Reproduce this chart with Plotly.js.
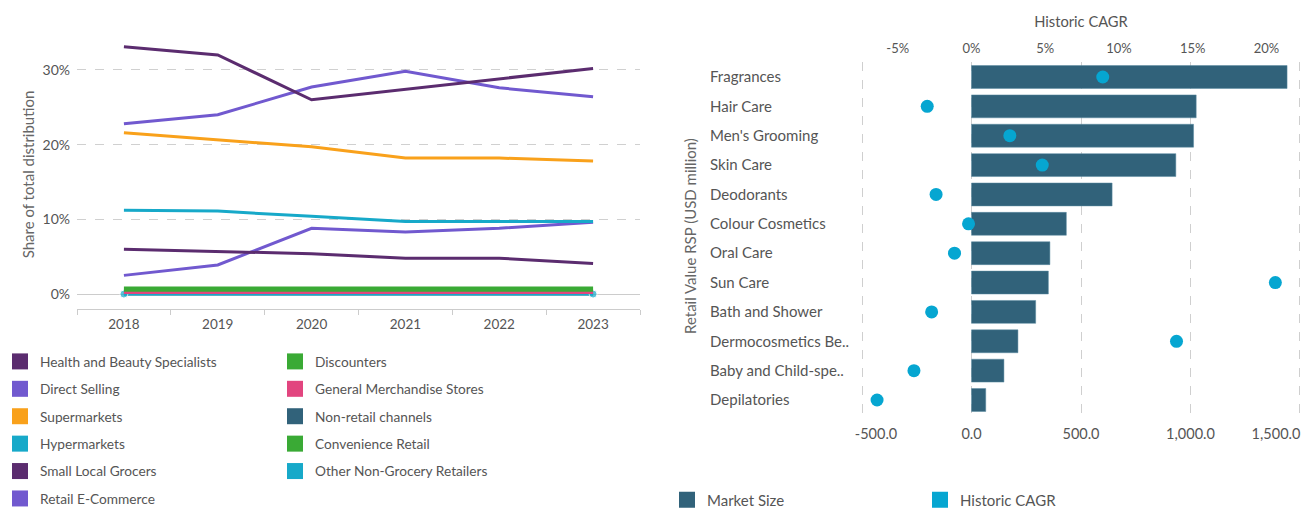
<!DOCTYPE html>
<html>
<head>
<meta charset="utf-8">
<script src="https://cdn.plot.ly/plotly-3.0.1.min.js"></script>
<style>html,body{margin:0;padding:0;background:#fff;}#chart{width:1302px;height:510px;}</style>
</head>
<body>
<div id="chart"></div>
<script>
// ---------- Left chart: share of total distribution (%) ----------
const years = ['2018', '2019', '2020', '2021', '2022', '2023'];
const channelNames = [
  'Health and Beauty Specialists', 'Direct Selling', 'Supermarkets', 'Hypermarkets',
  'Small Local Grocers', 'Retail E-Commerce', 'Discounters', 'General Merchandise Stores',
  'Non-retail channels', 'Convenience Retail', 'Other Non-Grocery Retailers'
];
const healthBeauty   = [33.1, 32.0, 26.0, 27.4, 28.8, 30.2];
const directSelling  = [22.8, 24.0, 27.7, 29.8, 27.6, 26.4];
const supermarkets   = [21.6, 20.7, 19.7, 18.2, 18.2, 17.8];
const hypermarkets   = [11.2, 11.1, 10.4, 9.7, 9.7, 9.7];
const smallGrocers   = [6.0, 5.7, 5.4, 4.8, 4.8, 4.1];
const eCommerce      = [2.5, 3.9, 8.8, 8.3, 8.8, 9.6];
const discounters    = [0.8, 0.8, 0.8, 0.8, 0.8, 0.8];
const generalMerch   = [0.2, 0.2, 0.1, 0.2, 0.2, 0.2];
const nonRetail      = [0.0, 0.0, 0.0, 0.0, 0.0, 0.0];
const convenience    = [0.5, 0.5, 0.5, 0.5, 0.5, 0.5];
const otherNonGrocery= [0.0, 0.0, 0.0, 0.0, 0.0, 0.0];
const shareTicks = [0, 10, 20, 30];
const shareTickText = ['0%', '10%', '20%', '30%'];

// ---------- Right chart: market size & historic CAGR ----------
const categories = [
  'Fragrances', 'Hair Care', "Men's Grooming", 'Skin Care', 'Deodorants', 'Colour Cosmetics',
  'Oral Care', 'Sun Care', 'Bath and Shower', 'Dermocosmetics Be..', 'Baby and Child-spe..', 'Depilatories'
];
const marketSize = [1441, 1026, 1014, 933, 642, 433, 358, 351, 293, 212, 148, 65];
const historicCagr = [8.9, -3.0, 2.6, 4.8, -2.4, -0.2, -1.15, 20.6, -2.7, 13.9, -3.9, -6.4];
const sizeTicks = [-500, 0, 500, 1000, 1500];
const sizeTickText = ['-500.0', '0.0', '500.0', '1,000.0', '1,500.0'];
const cagrTicks = [-5, 0, 5, 10, 15, 20];
const cagrTickText = ['-5%', '0%', '5%', '10%', '15%', '20%'];

const W = 1302, H = 510;
const px = v => v / W;
const py = v => 1 - v / H;

const seriesValues = [healthBeauty, directSelling, supermarkets, hypermarkets, smallGrocers,
  eCommerce, discounters, generalMerch, nonRetail, convenience, otherNonGrocery];
const seriesColors = ['#5b2c6f', '#7159cf', '#f9a11b', '#17a9c9', '#5b2c6f', '#7159cf',
  '#3aaa35', '#e2457f', '#31627a', '#3aaa35', '#17a9c9'];
const drawOrder = [8, 10, 7, 6, 9, 5, 4, 3, 2, 1, 0];

const traces = [];
drawOrder.forEach(i => {
  const t = {
    type: 'scatter', mode: 'lines', x: years, y: seriesValues[i], name: channelNames[i],
    xaxis: 'x', yaxis: 'y', showlegend: false, hoverinfo: 'x+y+name',
    line: { color: seriesColors[i], width: 3 }
  };
  if (i === 10) {
    t.mode = 'lines+markers';
    t.marker = { size: [8, 0, 0, 0, 0, 8], color: seriesColors[i] };
  }
  traces.push(t);
});
// legend entries (square swatches)
channelNames.forEach((n, i) => {
  traces.push({
    type: 'scatter', mode: 'markers', x: [null], y: [null], name: n,
    xaxis: 'x', yaxis: 'y', legend: i < 6 ? 'legend' : 'legend2', legendgroup: 'g' + i,
    marker: { symbol: 'square', size: 16, color: seriesColors[i] }, hoverinfo: 'skip'
  });
});

traces.push({
  type: 'bar', orientation: 'h', x: marketSize, y: categories, name: 'Market Size',
  xaxis: 'x2', yaxis: 'y2', showlegend: false,
  marker: { color: '#31627a', line: { color: '#5a8aa0', width: 0.5 } }
});
traces.push({
  type: 'scatter', mode: 'markers', x: historicCagr, y: categories, name: 'Historic CAGR',
  xaxis: 'x3', yaxis: 'y2', showlegend: false,
  marker: { color: '#06a6d1', size: 13 }
});
traces.push({
  type: 'scatter', mode: 'markers', x: [null], y: [null], name: 'Market Size',
  xaxis: 'x2', yaxis: 'y2', legend: 'legend3',
  marker: { symbol: 'square', size: 16, color: '#31627a' }, hoverinfo: 'skip'
});
traces.push({
  type: 'scatter', mode: 'markers', x: [null], y: [null], name: 'Historic CAGR',
  xaxis: 'x2', yaxis: 'y2', legend: 'legend3',
  marker: { symbol: 'square', size: 16, color: '#06a6d1' }, hoverinfo: 'skip'
});
// empty carriers so the edge-label overlay axes get drawn
['x4', 'x5'].forEach(ax => traces.push({
  type: 'scatter', mode: 'markers', x: [null], y: [null], xaxis: ax, yaxis: 'y2',
  showlegend: false, hoverinfo: 'skip'
}));

const FF = 'Lato, sans-serif';
const tickFont = { family: FF, size: 13, color: '#555' };
const legendFont = { family: FF, size: 13.7, color: '#555' };
const sizeFont = { family: FF, size: 14.5, color: '#555' };
const sizeRange = [-506, 1506];

// edge labels of the market-size axis are nudged inwards (own overlay axes)
const edgeAxis = (idx, shift) => ({
  overlaying: 'x2', anchor: 'y2', range: sizeRange,
  tickvals: [sizeTicks[idx]], ticktext: [sizeTickText[idx]], tickfont: sizeFont,
  ticklabelshift: shift, ticklabelstandoff: 9, ticklabeloverflow: 'allow',
  showgrid: false, zeroline: false, showline: false, ticks: '', fixedrange: true
});

const layout = {
  width: W, height: H,
  margin: { l: 0, r: 0, t: 0, b: 0, autoexpand: false },
  paper_bgcolor: '#fff', plot_bgcolor: 'rgba(0,0,0,0)',
  font: { family: FF, size: 13, color: '#555' },
  bargap: 0.22,
  showlegend: true,
  xaxis: {
    domain: [px(77), px(640)], anchor: 'y', type: 'category', range: [-0.5, 5.5],
    tickson: 'boundaries', ticks: 'outside', ticklen: 5, tickcolor: '#ccc',
    showline: true, linecolor: '#ccc', linewidth: 1, showgrid: false, zeroline: false,
    tickfont: { family: FF, size: 13.5, color: '#555' }, ticklabelstandoff: 3, fixedrange: true
  },
  yaxis: {
    domain: [py(309), py(40)], anchor: 'x', range: [-2.0, 34.0],
    tickvals: shareTicks, ticktext: shareTickText, tickfont: { family: FF, size: 14, color: '#555' },
    showgrid: true, gridcolor: '#d0d0d0', griddash: 'dash', gridwidth: 1,
    zeroline: true, zerolinecolor: '#ccc', zerolinewidth: 1,
    showline: false, ticks: '', ticklabelstandoff: 6,
    title: { text: 'Share of total distribution', font: { family: FF, size: 15, color: '#666' }, standoff: 4 },
    fixedrange: true
  },
  xaxis2: {
    domain: [px(860.7), px(1301.3)], anchor: 'y2', range: sizeRange,
    tickvals: sizeTicks, ticktext: ['', sizeTickText[1], sizeTickText[2], sizeTickText[3], ''],
    tickfont: sizeFont, ticklabelstandoff: 9,
    showgrid: true, gridcolor: '#cfcfcf', griddash: 'dash', gridwidth: 1,
    zeroline: false, showline: false, ticks: '', fixedrange: true
  },
  xaxis4: edgeAxis(0, 14),
  xaxis5: edgeAxis(4, -24),
  xaxis3: {
    overlaying: 'x2', anchor: 'y2', side: 'top', range: [-7.51, 22.36],
    tickvals: cagrTicks, ticktext: cagrTickText, tickfont: tickFont, ticklabelstandoff: 6,
    showgrid: false, zeroline: false, showline: false, ticks: '',
    title: { text: 'Historic CAGR', font: { family: FF, size: 14.7, color: '#555' }, standoff: 8 },
    fixedrange: true
  },
  yaxis2: {
    domain: [py(414.7), py(62.3)], anchor: 'free', position: px(709), side: 'right',
    type: 'category', range: [11.5, -0.5], tickfont: { family: FF, size: 15, color: '#555' },
    showgrid: false, zeroline: false, showline: false, ticks: '', fixedrange: true
  },
  legend: {
    x: px(0), y: py(346), xanchor: 'left', yanchor: 'top', orientation: 'v',
    traceorder: 'grouped', tracegroupgap: 6.6, font: legendFont, bgcolor: 'rgba(0,0,0,0)'
  },
  legend2: {
    x: px(275), y: py(346), xanchor: 'left', yanchor: 'top', orientation: 'v',
    traceorder: 'grouped', tracegroupgap: 6.6, font: legendFont, bgcolor: 'rgba(0,0,0,0)'
  },
  legend3: {
    x: px(667), y: py(500), xanchor: 'left', yanchor: 'middle', orientation: 'h',
    entrywidth: 208, entrywidthmode: 'pixels', font: { family: FF, size: 15, color: '#555' },
    bgcolor: 'rgba(0,0,0,0)'
  },
  annotations: [{
    text: 'Retail Value RSP (USD million)', textangle: -90,
    xref: 'paper', yref: 'paper', x: px(690), y: py(236), xanchor: 'center', yanchor: 'middle',
    showarrow: false, font: { family: FF, size: 15, color: '#666' }
  }]
};

Plotly.newPlot('chart', traces, layout, { displayModeBar: false, staticPlot: true });
</script>
</body>
</html>
